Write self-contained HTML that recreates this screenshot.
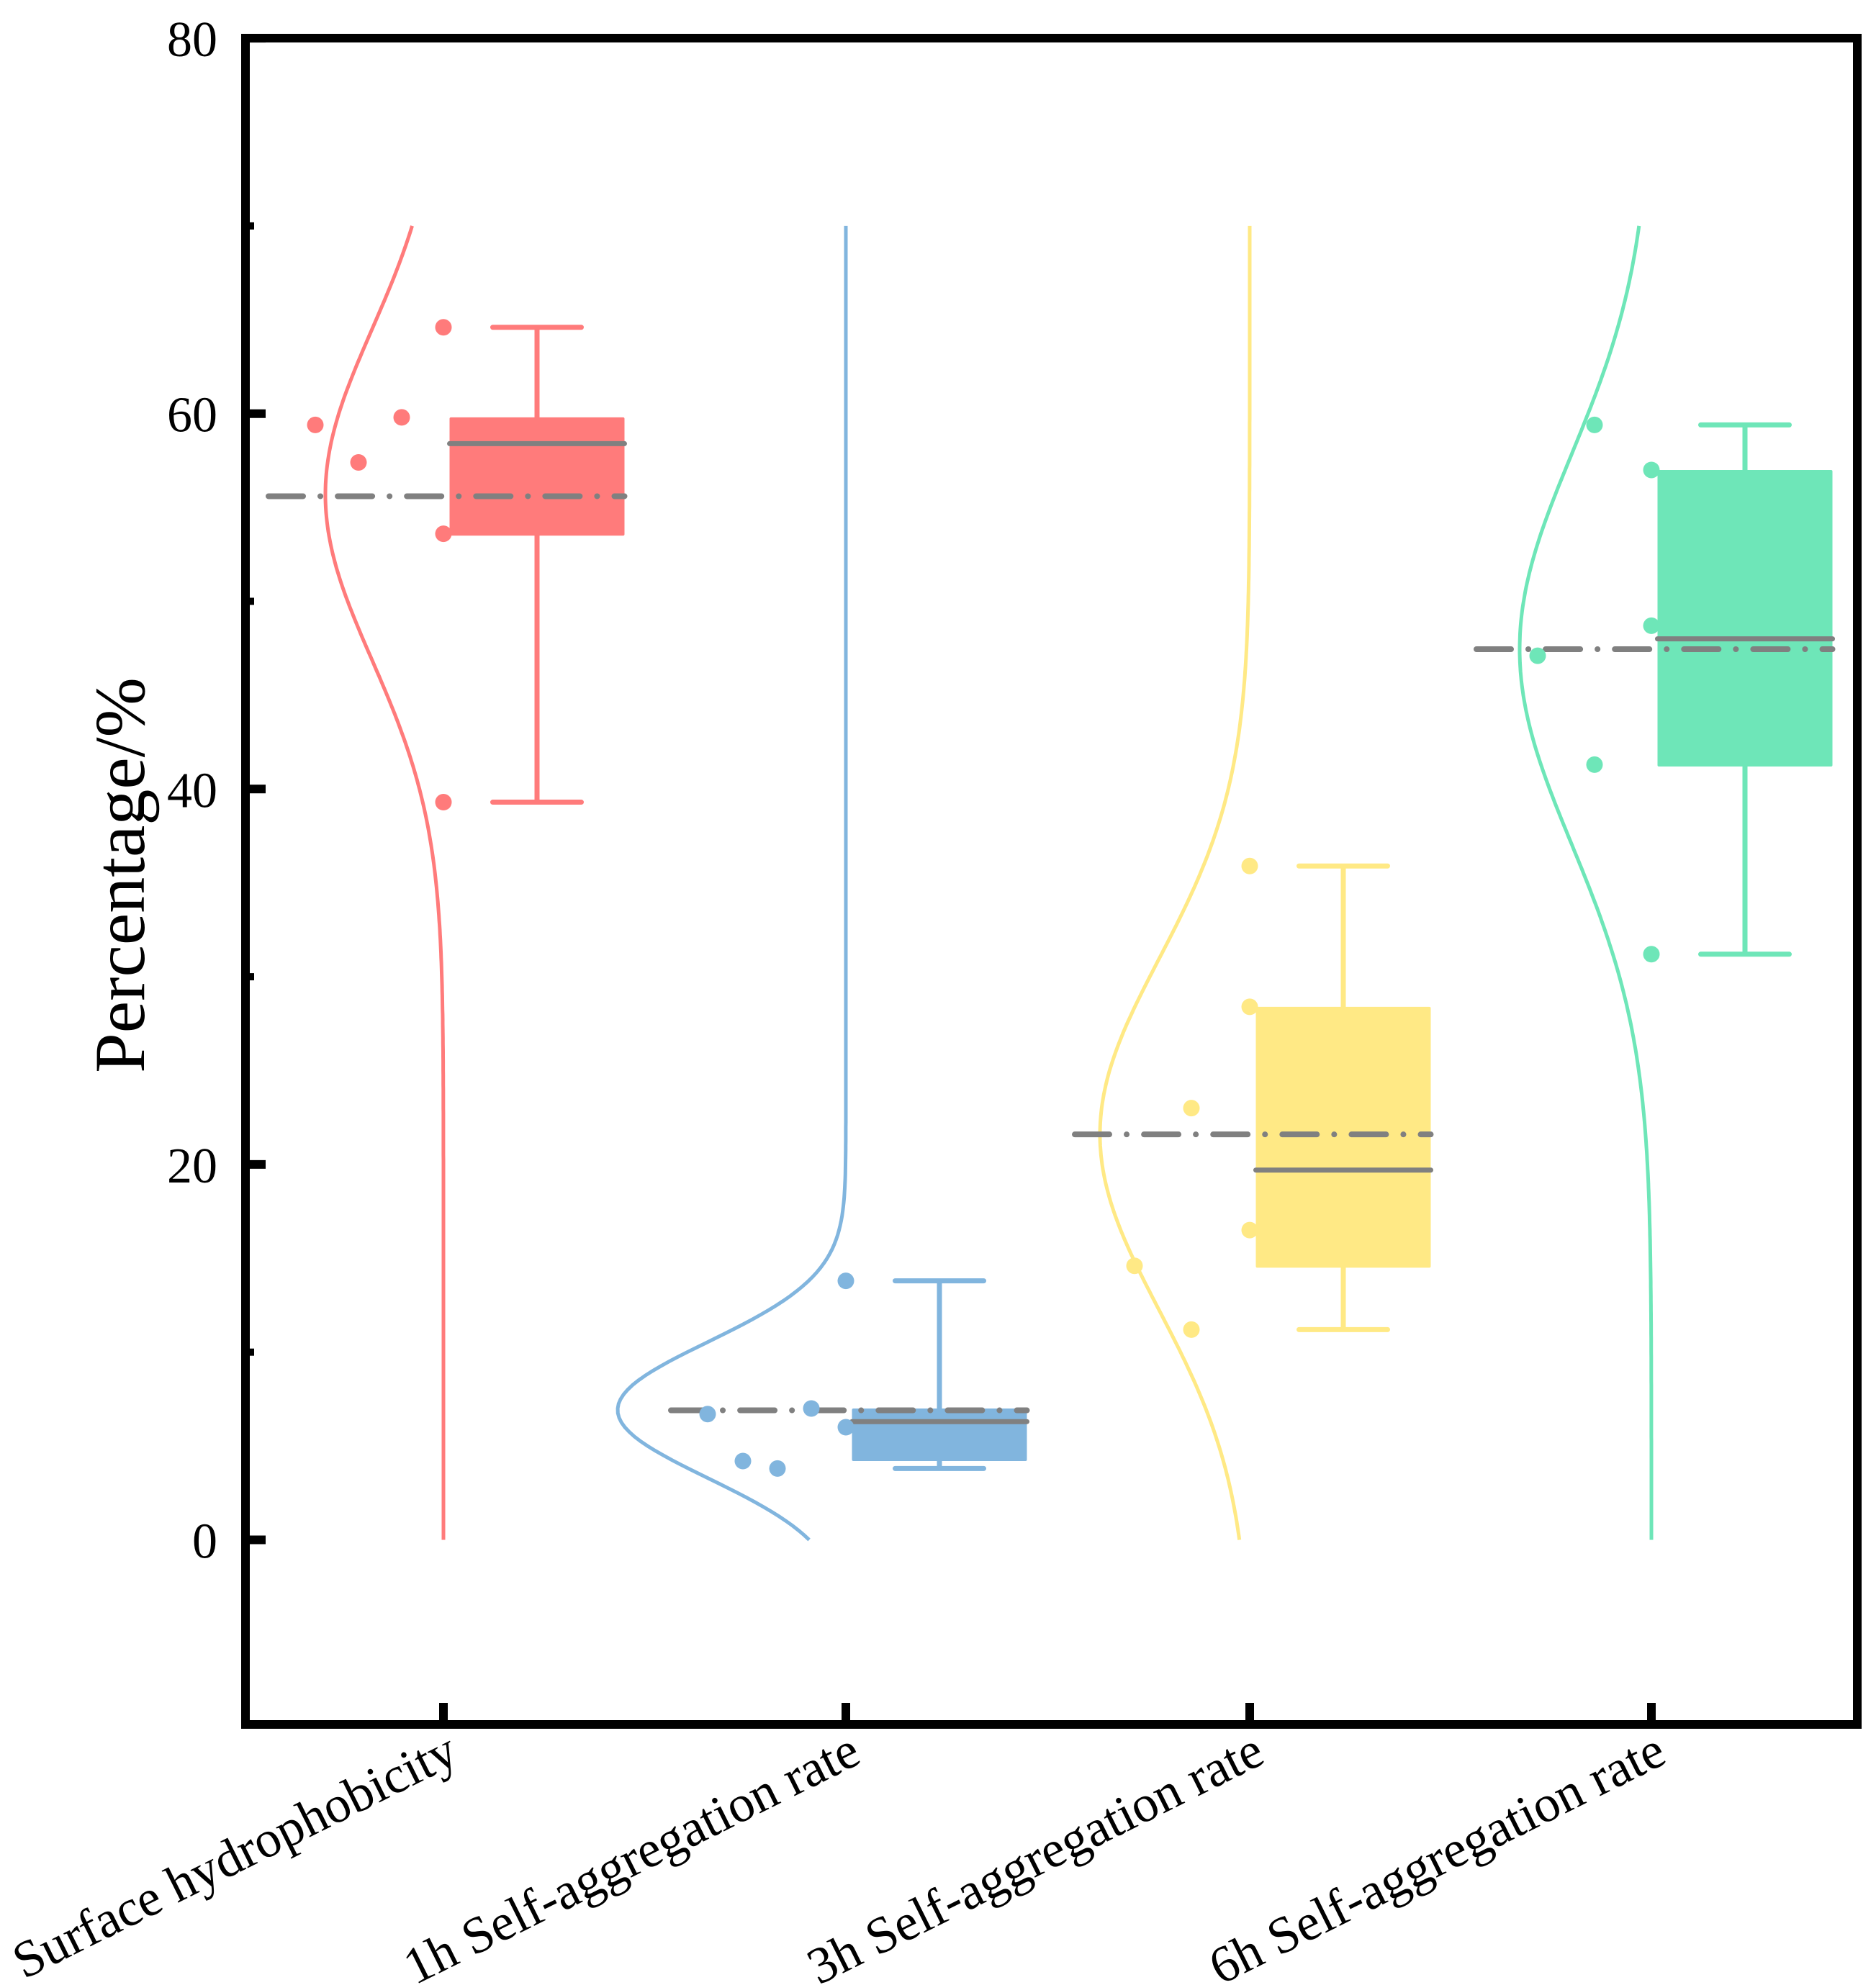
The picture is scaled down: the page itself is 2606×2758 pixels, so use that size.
<!DOCTYPE html>
<html><head><meta charset="utf-8"><style>
html,body{margin:0;padding:0;background:#fff}
svg{display:block;font-family:"Liberation Serif",serif}
</style></head><body>
<svg id="chart" width="2606" height="2758" viewBox="0 0 2606 2758">
<g id="marks"></g>
<g id="axes"></g>
</svg>
<script>
const categories = ["Surface hydrophobicity","1h Self-aggregation rate","3h Self-aggregation rate","6h Self-aggregation rate"];
const pointsRed = [59.4,57.4,59.8,64.6,53.6,39.3];
const pointsBlue = [6.7,4.2,3.8,7.0,6.0,13.8];
const pointsYellow = [14.6,11.2,23.0,35.9,28.4,16.5];
const pointsGreen = [47.1,59.4,41.3,57.0,48.7,31.2];
const boxQ1 = [53.5,4.2,14.5,41.2];
const boxQ3 = [59.8,7.0,28.4,57.0];
const boxMedian = [58.4,6.3,19.7,48.0];
const boxMean = [55.6,6.9,21.6,47.45];
const whiskerLow = [39.3,3.8,11.2,31.2];
const whiskerHigh = [64.6,13.8,35.9,59.4];
const yTicks = [0,20,40,60,80];
const yMinorTicks = [10,30,50,70];

const allPoints=[pointsRed,pointsBlue,pointsYellow,pointsGreen];
const colors=["#FF7B7B","#81B5DE","#FFE985","#6EE6B8"];
const jitter=[[-178,-118,-58,0,0,0],[-192,-143,-95,-48,0,0],[-160,-81,-81,0,0,0],[-158,-79,-79,0,0,0]];
const violinWidth=[164,317,208,183];
const NS="http://www.w3.org/2000/svg";
const L=341,R=2580,T=53,B=2396;
const y=v=>2139.5-v*26.08;
const xc=i=>[616,1175,1736,2294][i];
function mk(tag,parent,attrs){const e=document.createElementNS(NS,tag);for(const k in attrs)e.setAttribute(k,attrs[k]);parent.appendChild(e);return e;}
const marks=document.getElementById('marks'),axes=document.getElementById('axes');

categories.forEach((c,i)=>{
  const col=colors[i],pts=allPoints[i],x0=xc(i);
  const g=mk('g',marks,{});
  
  
  const m=pts.reduce((a,b)=>a+b,0)/pts.length;
  const sd=Math.sqrt(pts.reduce((a,b)=>a+(b-m)*(b-m),0)/(pts.length-1));
  let d='';
  for(let k=0;k<=280;k++){const v=k*70/280;const w=violinWidth[i]*Math.exp(-0.5*((v-m)/sd)**2);d+=(k?'L':'M')+(x0-w).toFixed(1)+','+y(v).toFixed(1);}
  const vp=mk('path',g,{d:d,fill:'none',stroke:col,'stroke-width':5});
  
  
  const bc=x0+130,bw=243,cw=123;
  const wl=mk('line',g,{x1:bc,x2:bc,y1:y(whiskerLow[i]),y2:y(whiskerHigh[i]),stroke:col,'stroke-width':7});
  
  
  [whiskerLow[i],whiskerHigh[i]].forEach(v=>{
    const cap=mk('line',g,{x1:bc-cw/2,x2:bc+cw/2,y1:y(v),y2:y(v),stroke:col,'stroke-width':7,'stroke-linecap':'round'});
    
    
  });
  const rect=mk('rect',g,{x:bc-bw/2,y:y(boxQ3[i]),width:bw,height:y(boxQ1[i])-y(boxQ3[i]),fill:col,rx:2});
  
  
  const med=mk('line',g,{x1:bc-bw/2,x2:bc+bw/2,y1:y(boxMedian[i]),y2:y(boxMedian[i]),stroke:'#808080','stroke-width':7,'stroke-linecap':'round'});
  
  
  const mean=mk('line',g,{x1:x0-243,x2:bc+bw/2,y1:y(boxMean[i]),y2:y(boxMean[i]),stroke:'#808080','stroke-width':8,'stroke-linecap':'round','stroke-dasharray':'48 24 0.1 24'});
  
  
  pts.forEach((v,j)=>{
    const p=mk('circle',g,{cx:x0+jitter[i][j],cy:y(v),r:11.5,fill:col});
    
    
  });
});

const fr=mk('rect',axes,{x:L,y:T,width:R-L,height:B-T,fill:'none',stroke:'#000','stroke-width':12});


yTicks.forEach(v=>{
  const t=mk('line',axes,{x1:L,x2:L+28,y1:y(v),y2:y(v),stroke:'#000','stroke-width':12});
  
  
  const lb=mk('text',axes,{x:302,y:y(v)+25,'text-anchor':'end','font-size':70});
  lb.textContent=v;
  
  
});
yMinorTicks.forEach(v=>{
  const t=mk('line',axes,{x1:L,x2:L+12,y1:y(v),y2:y(v),stroke:'#000','stroke-width':10});
  
  
});
categories.forEach((c,i)=>{
  const x=xc(i);
  const t=mk('line',axes,{x1:x,x2:x,y1:B,y2:B-30,stroke:'#000','stroke-width':12});
  
  
  const lb=mk('text',axes,{x:x+24,y:B+52,'text-anchor':'end','font-size':72,transform:`rotate(-26.5 ${x+24} ${B+52})`});
  lb.textContent=c;
  
  
});
const yt=mk('text',axes,{x:0,y:0,'text-anchor':'middle','font-size':100,transform:'translate(200 1216) rotate(-90)'});
yt.textContent='Percentage/%';


</script>
</body></html>
